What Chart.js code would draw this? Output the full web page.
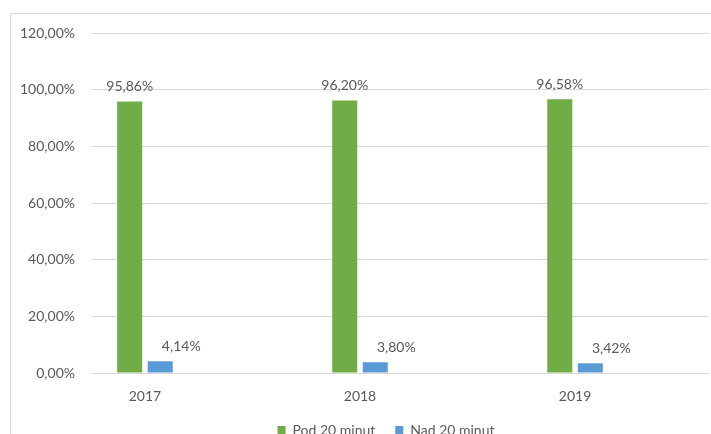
<!DOCTYPE html>
<html>
<head>
<meta charset="utf-8">
<script src="https://cdn.jsdelivr.net/npm/chart.js@4.4.1/dist/chart.umd.min.js"></script>
<style>
  html, body { margin: 0; padding: 0; background: #fff; overflow: hidden; width: 711px; height: 434px; }
  #box { position: absolute; left: 10px; top: 13px; width: 750px; height: 440px; border: 1px solid #d9d9d9; }
</style>
</head>
<body>
<div id="box"><canvas id="chart"></canvas></div>
<script>
const years = [2017, 2018, 2019];
const under20 = [95.86, 96.20, 96.58];
const over20 = [4.14, 3.80, 3.42];
const seriesNames = ["Pod 20 minut", "Nad 20 minut"];

const TEXT = "#595959";
const GRID = "#d9d9d9";

function pct(v) {
  return v.toFixed(2).replace(".", ",") + "%";
}

// data labels above bars (blue ones sit a bit to the right, like in the original)
const barLabels = {
  id: "barLabels",
  afterDatasetsDraw(chart) {
    const ctx = chart.ctx;
    ctx.save();
    ctx.font = "14px Lato";
    ctx.fillStyle = TEXT;
    ctx.textAlign = "center";
    ctx.textBaseline = "middle";
    chart.data.datasets.forEach((ds, i) => {
      const meta = chart.getDatasetMeta(i);
      meta.data.forEach((bar, j) => {
        ctx.fillText(pct(ds.data[j].y), bar.x + (ds.labelShift || 0), bar.y - 15);
      });
    });
    ctx.restore();
  }
};

// the legend is centred on the whole chart box, not on the padded area
const legendShift = {
  id: "legendShift",
  afterLayout(chart) {
    const lg = chart.legend;
    if (!lg) return;
    lg.left += 26;
    lg.right += 26;
    lg.adjustHitBoxes();
  }
};

Chart.defaults.font.family = "Lato";
Chart.defaults.font.size = 14;
Chart.defaults.color = TEXT;

new Chart(document.getElementById("chart"), {
  type: "bar",
  data: {
    datasets: [
      {
        label: seriesNames[0],
        data: years.map((y, i) => ({ x: y, y: under20[i] })),
        backgroundColor: "#70AD47",
        categoryPercentage: 0.284,
        barPercentage: 0.82
      },
      {
        label: seriesNames[1],
        data: years.map((y, i) => ({ x: y, y: over20[i] })),
        backgroundColor: "#5B9BD5",
        categoryPercentage: 0.284,
        barPercentage: 0.82,
        labelShift: 21
      }
    ]
  },
  options: {
    responsive: true,
    maintainAspectRatio: false,
    animation: false,
    layout: { padding: { left: 0, top: 19, right: 52, bottom: 7 } },
    plugins: {
      legend: {
        position: "bottom",
        labels: { boxWidth: 8, boxHeight: 8, padding: 20, color: TEXT }
      },
      tooltip: { enabled: false }
    },
    scales: {
      x: {
        type: "linear",
        offset: false,
        min: years[0] - 0.251,
        max: years[years.length - 1] + 0.623,
        grid: { display: false },
        border: { display: false },
        ticks: {
          stepSize: 1,
          includeBounds: false,
          padding: 7,
          callback: v => String(v)
        },
        afterFit(scale) { scale.height = 30; }
      },
      y: {
        min: 0,
        max: 120,
        grid: { color: GRID, drawTicks: false },
        border: { display: false },
        ticks: { stepSize: 20, padding: 16, callback: v => pct(v) },
        afterFit(scale) {
          scale.width = 80;
          scale.paddingTop = 0;
          scale.paddingBottom = 0;
        }
      }
    }
  },
  plugins: [barLabels, legendShift]
});
</script>
</body>
</html>
